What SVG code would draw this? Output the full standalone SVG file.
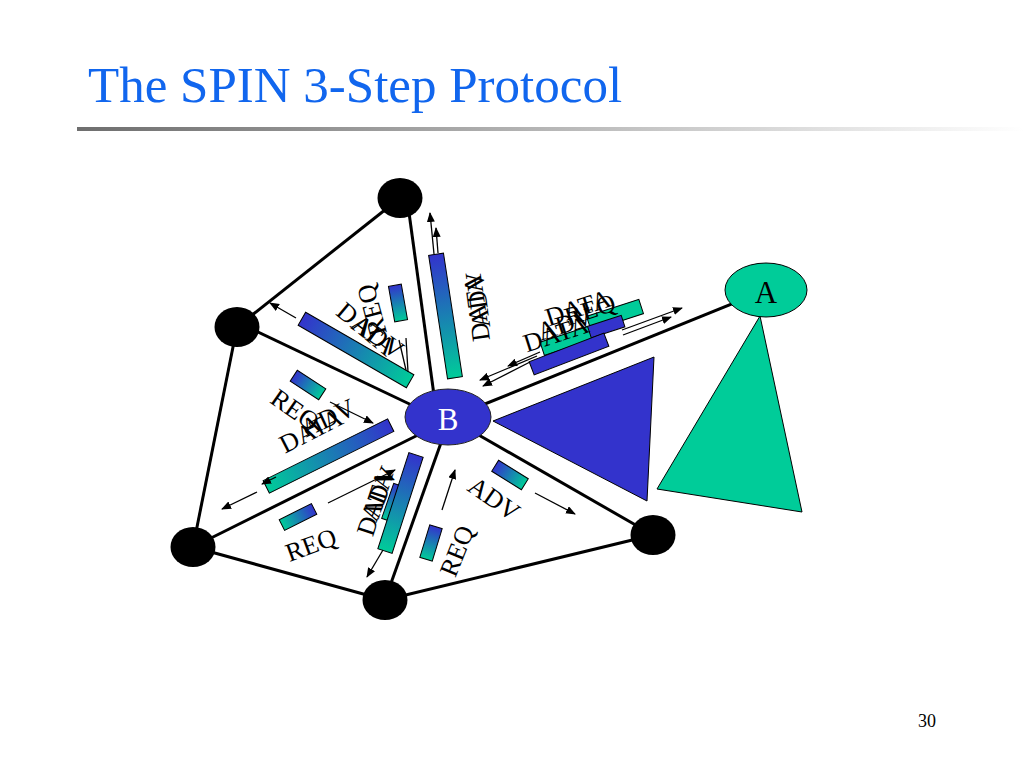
<svg xmlns="http://www.w3.org/2000/svg" width="1024" height="768" viewBox="0 0 1024 768">
<defs>
<linearGradient id="g" x1="0" y1="0" x2="0" y2="1"><stop offset="0" stop-color="#3333cc"/><stop offset="1" stop-color="#00cc99"/></linearGradient>
<linearGradient id="rule" x1="0" y1="0" x2="1" y2="0"><stop offset="0" stop-color="#6e6e6e"/><stop offset="1" stop-color="#ffffff"/></linearGradient>
<marker id="ah" markerWidth="10" markerHeight="8" refX="9" refY="4" orient="auto" markerUnits="userSpaceOnUse"><path d="M0,0 L10,4 L0,8 Z" fill="#000"/></marker>
<style>
.edge{stroke:#000;stroke-width:3;fill:none}
.arr{stroke:#000;stroke-width:1.3;fill:none;marker-end:url(#ah)}
.ln{stroke:#000;stroke-width:1.3;fill:none}
.bar{fill:url(#g);stroke:#000;stroke-width:1}
.sb{fill:#3333cc;stroke:#000;stroke-width:1}
.st{fill:#00cc99;stroke:#000;stroke-width:1}
.lbl{font-family:"Liberation Serif","Times New Roman",serif;font-size:26px;fill:#000;text-anchor:middle;dominant-baseline:central}
.node{fill:#000}
</style>
</defs>
<rect width="1024" height="768" fill="#fff"/>
<text x="88" y="102" font-family="Liberation Serif, Times New Roman, serif" font-size="51" fill="#1166ee">The SPIN 3-Step Protocol</text>
<rect x="77" y="127" width="947" height="4" fill="url(#rule)"/>
<text x="918" y="727" font-family="Liberation Serif, Times New Roman, serif" font-size="18" fill="#000">30</text>

<g id="connectors">
<line class="edge" x1="400" y1="198" x2="237" y2="327"/>
<line class="edge" x1="237" y1="327" x2="193" y2="547"/>
<line class="edge" x1="193" y1="547" x2="385" y2="600"/>
<line class="edge" x1="385" y1="600" x2="653" y2="535"/>
<line class="edge" x1="407" y1="198" x2="437" y2="417"/>
<line class="edge" x1="237" y1="322" x2="420" y2="409"/>
<line class="edge" x1="193" y1="547" x2="420" y2="434"/>
<line class="edge" x1="385" y1="600" x2="442" y2="440"/>
<line class="edge" x1="470" y1="430" x2="653" y2="535"/>
<line class="edge" x1="470" y1="410" x2="766" y2="290"/>
</g>

<g id="triangles">
<polygon points="493,421 654,357 647,501" fill="#3333cc" stroke="#000" stroke-width="1"/>
<polygon points="760,316 657,489 802,512" fill="#00cc99" stroke="#000" stroke-width="1"/>
</g>

<g id="n-top"><ellipse class="node" cx="400" cy="198" rx="22.5" ry="20"/></g>
<g id="n-ul"><ellipse class="node" cx="237" cy="327" rx="22.5" ry="20"/></g>
<g id="n-ll"><ellipse class="node" cx="193" cy="547" rx="22.5" ry="20"/></g>
<g id="n-bot"><ellipse class="node" cx="385" cy="600" rx="22.5" ry="20"/></g>
<g id="n-lr"><ellipse class="node" cx="653" cy="535" rx="22.5" ry="20"/></g>
<g id="n-B"><ellipse cx="448" cy="417" rx="43" ry="28" fill="#3333cc" stroke="#222" stroke-width="1"/><text x="448" y="419" class="lbl" style="font-size:31px;fill:#fff">B</text></g>
<g id="n-A"><ellipse cx="766" cy="290" rx="41" ry="27" fill="#00cc99" stroke="#000" stroke-width="1"/><text x="766" y="292" class="lbl" style="font-size:31px">A</text></g>

<g id="msg-upper-left">
<rect class="bar" x="-7.5" y="-62.5" width="15" height="125" transform="translate(356,350) rotate(-60)"/>
<rect class="bar" x="-6.5" y="-18" width="13" height="36" transform="translate(398,303) rotate(-10)"/>
<line class="arr" x1="296" y1="318" x2="270" y2="303"/>
<line class="ln" x1="399" y1="340" x2="406" y2="370"/>
<line class="ln" x1="406" y1="338" x2="408" y2="372"/>
<text class="lbl" transform="translate(372,310) rotate(-105)">REQ</text>
<text class="lbl" transform="translate(366,329) rotate(40)">DATA</text>
<text class="lbl" transform="translate(378,337) rotate(35)">ADV</text>
</g>

<g id="msg-top">
<rect class="bar" x="-7.5" y="-62.5" width="15" height="125" transform="translate(445.5,316) rotate(-8.7)"/>
<line class="arr" x1="434" y1="254" x2="430" y2="213"/>
<line class="arr" x1="438" y1="253" x2="436" y2="228"/>
<text class="lbl" transform="translate(477,308) rotate(-98)">DATA</text>
<text class="lbl" transform="translate(478,300) rotate(-98)">ADV</text>
</g>

<g id="msg-BA">
<rect class="st" x="-27.5" y="-7.5" width="55" height="15" transform="translate(615,315) rotate(-18)"/>
<rect class="sb" x="-19" y="-6" width="38" height="12" transform="translate(605,327) rotate(-18)"/>
<rect class="st" x="-25" y="-7" width="50" height="14" transform="translate(566,341) rotate(-18)"/>
<rect class="sb" x="-40" y="-7" width="80" height="14" transform="translate(569,354) rotate(-21)"/>
<line class="arr" x1="622" y1="330" x2="682" y2="308"/>
<line class="arr" x1="623" y1="335" x2="671" y2="317"/>
<line class="arr" x1="537" y1="356" x2="480" y2="380"/>
<line class="arr" x1="530" y1="362" x2="483" y2="386"/>
<line class="arr" x1="540" y1="352" x2="508" y2="366"/>
<text class="lbl" transform="translate(578,308) rotate(-18)">DATA</text>
<text class="lbl" transform="translate(590,310) rotate(-18)">REQ</text>
<text class="lbl" transform="translate(565,324) rotate(-18)">ADV</text>
<text class="lbl" transform="translate(556,334) rotate(-18)">DATA</text>
</g>

<g id="msg-left">
<rect class="bar" x="-6.5" y="-17" width="13" height="34" transform="translate(308,385) rotate(-57)"/>
<rect class="bar" x="-7" y="-69.5" width="14" height="139" transform="translate(328.5,456) rotate(63.6)"/>
<line class="arr" x1="330" y1="402" x2="373" y2="423"/>
<line class="arr" x1="257" y1="492" x2="222" y2="509"/>
<line class="arr" x1="276" y1="477" x2="262" y2="484"/>
<text class="lbl" transform="translate(295,410) rotate(35)">REQ</text>
<text class="lbl" transform="translate(311,431) rotate(-27)">DATA</text>
<text class="lbl" transform="translate(328,418) rotate(-25)">ADV</text>
</g>

<g id="msg-bottom-left">
<rect class="bar" x="-6" y="-18" width="12" height="36" transform="translate(298,517) rotate(63.4)"/>
<rect class="bar" x="-3.5" y="-18.5" width="7" height="37" transform="translate(391,502) rotate(19)"/>
<rect class="bar" x="-7.5" y="-50.5" width="15" height="101" transform="translate(400.5,503) rotate(17.9)"/>
<line class="arr" x1="328" y1="503" x2="395" y2="470"/>
<line class="arr" x1="383" y1="550" x2="367" y2="577"/>
<text class="lbl" transform="translate(311,545) rotate(-20)">REQ</text>
<text class="lbl" transform="translate(375,503) rotate(-72)">DATA</text>
<text class="lbl" transform="translate(379,494) rotate(-68)">ADV</text>
</g>

<g id="msg-bottom-right">
<rect class="bar" x="-6.5" y="-17" width="13" height="34" transform="translate(431,543) rotate(17)"/>
<rect class="bar" x="-6.5" y="-17.5" width="13" height="35" transform="translate(510,475) rotate(-58)"/>
<line class="arr" x1="442" y1="510" x2="455" y2="470"/>
<line class="arr" x1="535" y1="493" x2="575" y2="514"/>
<text class="lbl" transform="translate(457,551) rotate(-68)">REQ</text>
<text class="lbl" transform="translate(494,499) rotate(35)">ADV</text>
</g>
</svg>
